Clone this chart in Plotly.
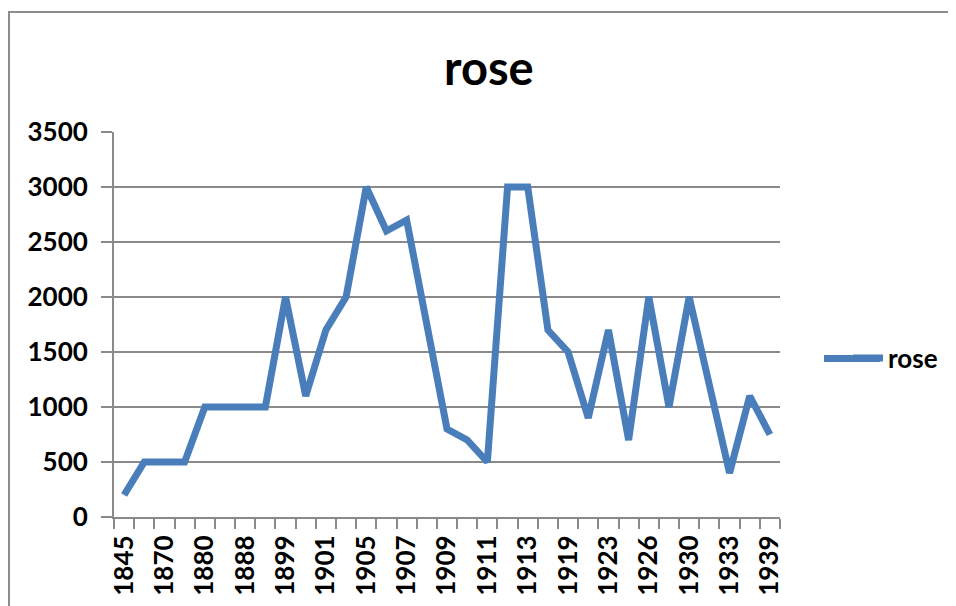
import plotly.graph_objects as go

years = ["1845", "1860", "1870", "1875", "1880", "1885", "1888", "1890", "1899", "1900",
         "1901", "1903", "1905", "1906", "1907", "1908", "1909", "1910", "1911", "1912",
         "1913", "1915", "1919", "1920", "1923", "1925", "1926", "1928", "1930", "1932",
         "1933", "1935", "1939"]
rose = [200, 500, 500, 500, 1000, 1000, 1000, 1000, 2000, 1100,
        1700, 2000, 3000, 2600, 2700, 1750, 800, 700, 500, 3000,
        3000, 1700, 1500, 900, 1700, 700, 2000, 1000, 2000, 1200,
        400, 1100, 750]
y_ticks = [0, 500, 1000, 1500, 2000, 2500, 3000, 3500]

xidx = list(range(len(years)))

FONT = "Lato, Open Sans, sans-serif"
GRID = "#8a8a8a"
BLUE = "#4a7ebb"

L, T, PW, PH = 106, 124, 666, 385
W, H = 956, 606
R = W - L - PW
B = H - T - PH


def px(fx):
    return (fx - L) / PW


def py(fy):
    return (T + PH - fy) / PH


fig = go.Figure()
fig.add_trace(go.Scatter(
    x=xidx, y=rose, mode="lines", name="rose",
    line=dict(color=BLUE, width=7),
))

fig.update_layout(
    width=W, height=H,
    paper_bgcolor="white", plot_bgcolor="white",
    margin=dict(l=L, r=R, t=T, b=B, autoexpand=False),
    title=dict(text="rose", x=0.503, xanchor="center", y=1 - 61 / H, yanchor="middle",
               font=dict(family=FONT, size=47, color="black", weight="bold")),
    showlegend=True,
    legend=dict(x=px(840), xanchor="left", y=py(350), yanchor="middle",
                font=dict(family=FONT, size=26, color="black", weight="bold"),
                bgcolor="rgba(0,0,0,0)"),
    xaxis=dict(
        range=[-0.5, len(years) - 0.5],
        tickmode="array", tickvals=xidx[::2], ticktext=years[::2],
        tickangle=-90, ticks="", showgrid=False, zeroline=False,
        showline=True, linecolor=GRID, linewidth=2,
        ticklabelstandoff=6,
        tickfont=dict(family=FONT, size=26, color="black", weight="bold"),
        minor=dict(ticks="outside", tick0=-0.5, dtick=1, ticklen=10, tickcolor=GRID,
                   tickwidth=2, showgrid=False),
    ),
    yaxis=dict(
        range=[0, 3500], tickmode="array", tickvals=y_ticks,
        ticks="outside", ticklen=11, tickcolor=GRID, tickwidth=2,
        ticklabelstandoff=8,
        showgrid=True, gridcolor=GRID, gridwidth=2, zeroline=False,
        showline=True, linecolor=GRID, linewidth=2,
        tickfont=dict(family=FONT, size=26, color="black", weight="bold"),
    ),
)

# chart frame
fig.add_shape(type="rect", xref="paper", yref="paper",
              x0=px(1), x1=2.0, y0=-0.6, y1=py(4),
              line=dict(color="#8c8c8c", width=2), fillcolor="rgba(0,0,0,0)", layer="below")
# longer legend key line
fig.add_shape(type="line", xref="paper", yref="paper",
              x0=px(816), x1=px(872), y0=py(350.5), y1=py(350.5),
              line=dict(color=BLUE, width=7), layer="above")

fig.write_html("out.html")
